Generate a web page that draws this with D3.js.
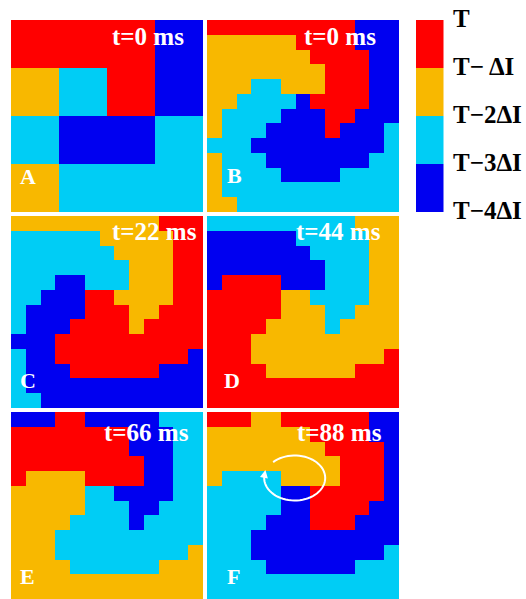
<!doctype html>
<html lang="en">
<head>
  <meta charset="utf-8">
  <title>Activation maps</title>
  <style>
    body { margin: 0; background: #fff; }
    svg { display: block; }
    .cell { shape-rendering: crispEdges; }
    .tag {
      font-family: "Liberation Serif", "Times New Roman", serif;
      font-weight: bold;
      fill: #fff;
    }
    .key {
      font-family: "Liberation Serif", "Times New Roman", serif;
      font-weight: bold;
      font-size: 25px;
      fill: #000;
    }
  </style>
</head>
<body>
  <div id="chart"></div>
  <script src="https://cdn.jsdelivr.net/npm/d3@7"></script>
  <script>
(function() {

  var width = 526;
  var height = 599;

  // colour levels, top of the key first
  var levels = [0, 1, 2, 3];
  var levelColors = ["#ff0000", "#f8b800", "#00cdf5", "#0000f0"];
  var keyLabels = ["T", "T\u2212\u2009\u0394I", "T\u22122\u0394I", "T\u22123\u0394I", "T\u22124\u0394I"];

  var panelNames = ["A", "B", "C", "D", "E", "F"];
  var panelTimes = ["t=0 ms", "t=0 ms", "t=22 ms", "t=44 ms", "t=66 ms", "t=88 ms"];

  // cell codes: R = T, O = T-dI, C = T-2dI, B = T-3dI
  var gridA = [
    "RRRB",
    "OCRB",
    "CBBC",
    "OCCC"
  ];
  var gridB = [
    "RRRRRRRRRRBBB",
    "OOOOOORRRRBBB",
    "OOOOOOORRRRBB",
    "OOOOOOOORRRBB",
    "OOOCCOOORRRBB",
    "OOCCCCBRRRRBB",
    "OCCCCBBBRRBBB",
    "OCCCBBBBRBBBC",
    "CCCBBBBBBBBBC",
    "OCCCBBBBBBBCC",
    "OCCCCBBBBCCCC",
    "OCCCCCCCCCCCC",
    "OOCCCCCCCCCCC"
  ];
  var gridC = [
    "OOOOOOOOOORRR",
    "CCCCCCOOOOORR",
    "CCCCCCCOOOORR",
    "CCCCCCCCOOORR",
    "CCCBBCCCOOORR",
    "CCBBBRROOOORR",
    "CBBBBRRROORRR",
    "CBBBRRRRORRRR",
    "BBBRRRRRRRRRR",
    "CBBRRRRRRRRRB",
    "CBBBRRRRRRBBB",
    "CBBBBBBBBBBBB",
    "CCBBBBBBBBBBB"
  ];
  var gridD = [
    "CCCCCCCCCCOOO",
    "BBBBBBCCCCCOO",
    "BBBBBBBCCCCOO",
    "BBBBBBBBCCCOO",
    "BRRRRBBBCCCOO",
    "RRRRROOCCCCOO",
    "RRRRROOOCCOOO",
    "RRRROOOOCOOOO",
    "RRROOOOOOOOOO",
    "RRROOOOOOOOOR",
    "RRRROOOOOORRR",
    "RRRRRRRRRRRRR",
    "RRRRRRRRRRRRR"
  ];
  var gridE = [
    "BBBRRBBBBBCCC",
    "RRRRRRRRBBBCC",
    "RRRRRRRRBBBCC",
    "RRRRRRRRRBBCC",
    "ROOOORRRRBBCC",
    "OOOOOCCBBBBCC",
    "OOOOOCCCBBCCC",
    "OOOOCCCCBCCCC",
    "OOOCCCCCCCCCC",
    "OOOCCCCCCCCCO",
    "OOOOCCCCCCOOO",
    "OOOOOOOOOOOOO",
    "OOOOOOOOOOOOO"
  ];
  var gridF = [
    "RRROORRRRRRBB",
    "OOOOOOORRRRBB",
    "OOOOOOOORRRRB",
    "OOOOOOOOORRRB",
    "OCCCCOOOORRRB",
    "CCCCCBBRRRRRB",
    "CCCCCBBRRRRBB",
    "CCCCBBBRRRBBB",
    "CCCBBBBBBBBBB",
    "CCCBBBBBBBBBC",
    "CCCCBBBBBBCCC",
    "CCCCCCCCCCCCC",
    "CCCCCCCCCCCCC"
  ];
  var grids = [gridA, gridB, gridC, gridD, gridE, gridF];

  var codeLevel = { R: 0, O: 1, C: 2, B: 3 };

  // layout
  var panelSize = 192;
  var colX = [11, 207];
  var rowY = [20, 216, 412];
  var tagPos = [
    { tx: 101, ty: 25, lx: 9,  ly: 164 },
    { tx: 97,  ty: 25, lx: 20, ly: 163 },
    { tx: 101, ty: 24, lx: 9,  ly: 172 },
    { tx: 89,  ty: 24, lx: 17, ly: 172 },
    { tx: 93,  ty: 29, lx: 9,  ly: 172 },
    { tx: 90,  ty: 29, lx: 20, ly: 172 }
  ];

  var color = d3.scaleOrdinal().domain(levels).range(levelColors);

  var svg = d3.select("#chart")
      .append("svg")
      .attr("width", width)
      .attr("height", height);

  grids.forEach(function(grid, i) {
    var px = colX[i % 2];
    var py = rowY[Math.floor(i / 2)];
    var n = grid.length;

    var x = d3.scaleBand().domain(d3.range(n)).range([0, panelSize]);
    var y = d3.scaleBand().domain(d3.range(n)).range([0, panelSize]);

    var g = svg.append("g")
        .attr("transform", "translate(" + px + "," + py + ")");

    var cells = [];
    grid.forEach(function(row, r) {
      row.split("").forEach(function(ch, c) {
        cells.push({ r: r, c: c, level: codeLevel[ch] });
      });
    });

    g.append("g")
      .selectAll("rect")
      .data(cells)
      .enter().append("rect")
        .attr("class", "cell")
        .attr("x", function(d) { return x(d.c); })
        .attr("y", function(d) { return y(d.r); })
        .attr("width", x.bandwidth())
        .attr("height", y.bandwidth())
        .attr("fill", function(d) { return color(d.level); });

    var p = tagPos[i];
    g.append("text")
      .attr("class", "tag")
      .attr("x", p.tx)
      .attr("y", p.ty)
      .style("font-size", "25px")
      .text(panelTimes[i]);

    g.append("text")
      .attr("class", "tag")
      .attr("x", p.lx)
      .attr("y", p.ly)
      .style("font-size", "22px")
      .text(panelNames[i]);

    // rotation arrow in F
    if (panelNames[i] === "F") {
      var cx = 87.7, cy = 66, rx = 30.5, ry = 22.5;
      var a0 = 225 * Math.PI / 180, a1 = 548 * Math.PI / 180;
      var pts = d3.range(0, 61).map(function(k) {
        var a = a0 + (a1 - a0) * k / 60;
        return [cx + rx * Math.cos(a), cy + ry * Math.sin(a)];
      });
      g.append("path")
        .attr("d", d3.line()(pts))
        .attr("fill", "none")
        .attr("stroke", "#fff")
        .attr("stroke-width", 2);
      var end = pts[pts.length - 1];
      var dx = -rx * Math.sin(a1), dy = ry * Math.cos(a1);
      var ang = Math.atan2(dy, dx) * 180 / Math.PI;
      g.append("path")
        .attr("d", "M5,0L-3,-4L-3,4Z")
        .attr("fill", "#fff")
        .attr("transform", "translate(" + end[0] + "," + end[1] + ") rotate(" + ang + ")");
    }
  });

  // colour key
  var keyY = d3.scaleLinear().domain([0, 4]).range([20, 212]);
  var key = svg.append("g").attr("transform", "translate(416,0)");

  key.selectAll("rect")
    .data(levels)
    .enter().append("rect")
      .attr("x", 0)
      .attr("width", 27.5)
      .attr("y", function(d) { return keyY(d); })
      .attr("height", function(d) { return keyY(d + 1) - keyY(d); })
      .attr("fill", function(d) { return color(d); });

  key.selectAll("text")
    .data(keyLabels)
    .enter().append("text")
      .attr("class", "key")
      .attr("x", 37)
      .attr("y", function(d, i) { return keyY(i) + 6.5; })
      .text(function(d) { return d; });

})();
  </script>
</body>
</html>
